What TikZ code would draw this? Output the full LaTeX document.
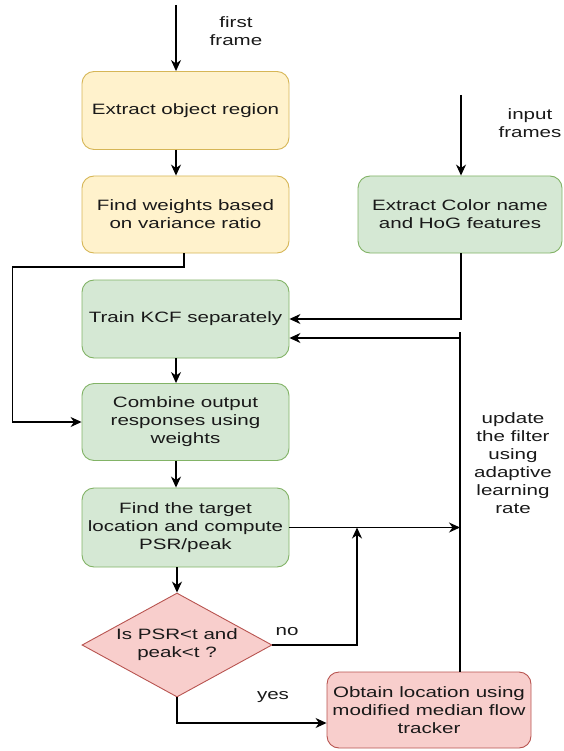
\documentclass[tikz,border=0pt]{standalone}
\usepackage{fontspec}
\newfontfamily\flowfont[FakeStretch=1.37]{Liberation Sans}
\usetikzlibrary{arrows.meta,shapes.geometric}
\definecolor{yfill}{HTML}{FFF2CC}
\definecolor{ydraw}{HTML}{D6B656}
\definecolor{gfill}{HTML}{D5E8D4}
\definecolor{gdraw}{HTML}{82B366}
\definecolor{rfill}{HTML}{F8CECC}
\definecolor{rdraw}{HTML}{B85450}
\tikzset{
  txt/.style={font=\flowfont\fontsize{15pt}{18pt}\selectfont, text=black!90, align=center},
  box/.style={txt, rectangle, rounded corners=12pt, draw, line width=0.9pt,
    minimum width=207pt, minimum height=78pt, inner sep=0pt},
  ybox/.style={box, fill=yfill, draw=ydraw},
  gbox/.style={box, fill=gfill, draw=gdraw},
  rbox/.style={box, fill=rfill, draw=rdraw},
  dec/.style={txt, diamond, aspect=1.83, draw=rdraw, fill=rfill, line width=0.9pt,
    minimum width=190pt, minimum height=104pt, inner sep=0pt},
  lbl/.style={txt, inner sep=0pt},
  conn/.style={line width=1.2pt},
  arr/.style={conn, -{Stealth[length=11pt,width=10pt,inset=3.5pt]}},
}
\begin{document}
\begin{tikzpicture}[x=1pt,y=-1pt]
\useasboundingbox (0,0) rectangle (563,751);

% process boxes
\node[ybox] (extract) at (185.5,110.5) {Extract object region};
\node[ybox, minimum height=77pt] (weights) at (185.5,214.5) {Find weights based\\on variance ratio};
\node[gbox, minimum width=204pt, minimum height=77pt] (feat) at (460,214.5) {Extract Color name\\and HoG features};
\node[gbox] (train) at (185.5,319) {Train KCF separately};
\node[gbox, minimum height=77pt] (combine) at (185.5,422) {Combine output\\responses using\\weights};
\node[gbox, minimum height=79pt] (target) at (185.5,527.5) {Find the target\\location and compute\\PSR/peak};
\node[dec] (test) at (177,645) {Is PSR<t and\\peak<t ?};
\node[rbox, minimum width=204pt, minimum height=76pt] (median) at (429,710) {Obtain location using\\modified median flow\\tracker};

% free labels
\node[lbl] (firstlbl) at (236,31) {first\\frame};
\node[lbl] (inputlbl) at (530,123) {input\\frames};
\node[lbl] (updlbl) at (513,463) {update\\the filter\\using\\adaptive\\learning\\rate};
\node[lbl] (nolbl) at (287,632) {no};
\node[lbl] (yeslbl) at (273,697) {yes};

% routing points
\coordinate (ffsrc) at (176,5);
\coordinate (infsrc) at (461,95);
\coordinate (wx) at (184,253);
\coordinate (split) at (12.5,267);
\coordinate (updx) at (460,332);
\coordinate (upd) at (461,338);
\coordinate (nox) at (357,644);
\coordinate (yesx) at (176,723);

% main column
\draw[arr] (ffsrc) -- (ffsrc |- extract.north);
\draw[arr] (ffsrc |- extract.south) -- (ffsrc |- weights.north);
\draw[arr] (wx) |- (split) |- (combine.west);
\draw[arr] (train.south -| ffsrc) -- (combine.north -| ffsrc);
\draw[arr] (combine.south -| ffsrc) -- (target.north -| ffsrc);
\draw[arr] (target.south -| test.north) -- (test.north);

% feature branch
\draw[arr] (infsrc) -- (infsrc |- feat.north);
\draw[arr] (infsrc |- feat.south) |- (train.east);

% update loop
\draw[conn] (median.north -| updx) -- (updx);
\draw[arr] (upd) -- (train.east |- upd);
\draw[arr] (target.east) -- (target.east -| updx);

% decision outcomes
\draw[arr] (test.east) -| (nox |- target.east);
\draw[arr] (test.south) |- (median.west |- yesx);
\end{tikzpicture}
\end{document}
